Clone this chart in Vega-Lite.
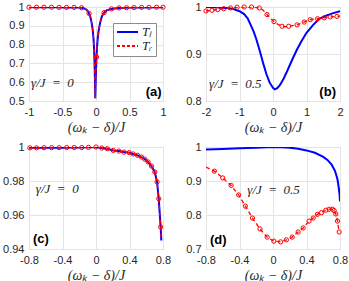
{
  "$schema": "https://vega.github.io/schema/vega-lite/v6.json",
  "background": "white",
  "padding": {"left": 2, "top": 0, "right": 0, "bottom": 0},
  "bounds": "flush",
  "align": "each",
  "columns": 2,
  "spacing": {"row": 46, "column": 43},
  "resolve": {"scale": {"color": "independent"}, "legend": {"color": "independent"}},
  "datasets": {
    "a": [
      {"x": -1, "y": 0.999}, {"x": -0.8, "y": 0.999}, {"x": -0.6, "y": 0.999}, {"x": -0.45, "y": 0.998},
      {"x": -0.33, "y": 0.998}, {"x": -0.25, "y": 0.997}, {"x": -0.2, "y": 0.995}, {"x": -0.16, "y": 0.99},
      {"x": -0.13, "y": 0.982}, {"x": -0.104, "y": 0.966}, {"x": -0.085, "y": 0.948}, {"x": -0.07, "y": 0.925},
      {"x": -0.058, "y": 0.9}, {"x": -0.047, "y": 0.87}, {"x": -0.037, "y": 0.83}, {"x": -0.029, "y": 0.78},
      {"x": -0.022, "y": 0.71}, {"x": -0.016, "y": 0.62}, {"x": -0.011, "y": 0.515}, {"x": -0.005, "y": 0.6},
      {"x": 0.0, "y": 0.66}, {"x": 0.008, "y": 0.734}, {"x": 0.016, "y": 0.79}, {"x": 0.026, "y": 0.835},
      {"x": 0.04, "y": 0.875}, {"x": 0.055, "y": 0.905}, {"x": 0.07, "y": 0.928}, {"x": 0.09, "y": 0.952},
      {"x": 0.12, "y": 0.97}, {"x": 0.16, "y": 0.982}, {"x": 0.2, "y": 0.987}, {"x": 0.25, "y": 0.991},
      {"x": 0.35, "y": 0.995}, {"x": 0.5, "y": 0.997}, {"x": 0.7, "y": 0.998}, {"x": 1, "y": 0.999}
    ],
    "am": [
      {"x": -1, "y": 0.999}, {"x": -0.888, "y": 0.999}, {"x": -0.776, "y": 0.999}, {"x": -0.664, "y": 0.999},
      {"x": -0.552, "y": 0.998}, {"x": -0.44, "y": 0.998}, {"x": -0.328, "y": 0.998}, {"x": -0.216, "y": 0.996},
      {"x": -0.104, "y": 0.966}, {"x": 0.008, "y": 0.734}, {"x": 0.12, "y": 0.97}, {"x": 0.232, "y": 0.99},
      {"x": 0.344, "y": 0.995}, {"x": 0.456, "y": 0.996}, {"x": 0.568, "y": 0.997}, {"x": 0.68, "y": 0.998},
      {"x": 0.792, "y": 0.998}, {"x": 0.904, "y": 0.999}, {"x": 1, "y": 0.999}
    ],
    "bb": [
      {"x": -2, "y": 1.0}, {"x": -1.7, "y": 0.9995}, {"x": -1.4, "y": 0.998}, {"x": -1.2, "y": 0.996},
      {"x": -1.0, "y": 0.991}, {"x": -0.86, "y": 0.985}, {"x": -0.75, "y": 0.975}, {"x": -0.66, "y": 0.961},
      {"x": -0.58, "y": 0.948}, {"x": -0.5, "y": 0.932}, {"x": -0.4, "y": 0.908}, {"x": -0.3, "y": 0.882},
      {"x": -0.2, "y": 0.858}, {"x": -0.1, "y": 0.839}, {"x": 0.0, "y": 0.828}, {"x": 0.05, "y": 0.825},
      {"x": 0.12, "y": 0.827}, {"x": 0.2, "y": 0.833}, {"x": 0.3, "y": 0.845}, {"x": 0.4, "y": 0.86},
      {"x": 0.5, "y": 0.876}, {"x": 0.6, "y": 0.892}, {"x": 0.72, "y": 0.91}, {"x": 0.84, "y": 0.926},
      {"x": 1.0, "y": 0.945}, {"x": 1.2, "y": 0.962}, {"x": 1.38, "y": 0.975}, {"x": 1.6, "y": 0.982},
      {"x": 1.8, "y": 0.987}, {"x": 2.0, "y": 0.991}
    ],
    "br": [
      {"x": -2, "y": 0.9915}, {"x": -1.82, "y": 0.993}, {"x": -1.65, "y": 0.9945}, {"x": -1.47, "y": 0.9965},
      {"x": -1.27, "y": 0.998}, {"x": -1.07, "y": 0.9995}, {"x": -0.86, "y": 1.0}, {"x": -0.64, "y": 1.0},
      {"x": -0.41, "y": 0.998}, {"x": -0.3, "y": 0.9935}, {"x": -0.18, "y": 0.984}, {"x": -0.08, "y": 0.976},
      {"x": 0.03, "y": 0.969}, {"x": 0.15, "y": 0.963}, {"x": 0.27, "y": 0.959}, {"x": 0.37, "y": 0.958},
      {"x": 0.47, "y": 0.959}, {"x": 0.72, "y": 0.962}, {"x": 0.93, "y": 0.968}, {"x": 1.11, "y": 0.973},
      {"x": 1.33, "y": 0.975}, {"x": 1.53, "y": 0.977}, {"x": 1.71, "y": 0.979}, {"x": 1.91, "y": 0.98},
      {"x": 2.0, "y": 0.9805}
    ],
    "bm": [
      {"x": -2, "y": 0.9915}, {"x": -1.82, "y": 0.993}, {"x": -1.65, "y": 0.9945}, {"x": -1.47, "y": 0.9965},
      {"x": -1.27, "y": 0.998}, {"x": -1.07, "y": 0.9995}, {"x": -0.86, "y": 1.0}, {"x": -0.64, "y": 1.0},
      {"x": -0.41, "y": 0.998}, {"x": -0.18, "y": 0.984}, {"x": 0.03, "y": 0.969}, {"x": 0.27, "y": 0.959},
      {"x": 0.47, "y": 0.959}, {"x": 0.72, "y": 0.962}, {"x": 0.93, "y": 0.968}, {"x": 1.11, "y": 0.973},
      {"x": 1.33, "y": 0.975}, {"x": 1.53, "y": 0.977}, {"x": 1.71, "y": 0.979}, {"x": 1.91, "y": 0.98}
    ],
    "c": [
      {"x": -0.8, "y": 0.9995}, {"x": -0.7, "y": 0.9995}, {"x": -0.6, "y": 0.9996}, {"x": -0.5, "y": 0.9996},
      {"x": -0.4, "y": 0.9996}, {"x": -0.3, "y": 0.9997}, {"x": -0.2, "y": 0.9997}, {"x": -0.1, "y": 0.9998},
      {"x": 0.0, "y": 1.0}, {"x": 0.068, "y": 0.9994}, {"x": 0.134, "y": 0.999}, {"x": 0.206, "y": 0.998},
      {"x": 0.273, "y": 0.9976}, {"x": 0.333, "y": 0.997}, {"x": 0.396, "y": 0.9967}, {"x": 0.444, "y": 0.9959},
      {"x": 0.496, "y": 0.9951}, {"x": 0.543, "y": 0.9941}, {"x": 0.583, "y": 0.9928}, {"x": 0.622, "y": 0.9912},
      {"x": 0.662, "y": 0.9888}, {"x": 0.702, "y": 0.9853}, {"x": 0.729, "y": 0.9795}, {"x": 0.749, "y": 0.9696},
      {"x": 0.772, "y": 0.953}, {"x": 0.78, "y": 0.945}
    ],
    "cm": [
      {"x": -0.79, "y": 0.9995}, {"x": -0.71, "y": 0.9995}, {"x": -0.62, "y": 0.9996}, {"x": -0.53, "y": 0.9996},
      {"x": -0.44, "y": 0.9996}, {"x": -0.35, "y": 0.9997}, {"x": -0.26, "y": 0.9997}, {"x": -0.17, "y": 0.9997},
      {"x": -0.09, "y": 0.9998}, {"x": 0.0, "y": 1.0}, {"x": 0.068, "y": 0.9994}, {"x": 0.134, "y": 0.999},
      {"x": 0.206, "y": 0.998}, {"x": 0.273, "y": 0.9976}, {"x": 0.333, "y": 0.997}, {"x": 0.396, "y": 0.9967},
      {"x": 0.444, "y": 0.9959}, {"x": 0.496, "y": 0.9951}, {"x": 0.543, "y": 0.9941}, {"x": 0.583, "y": 0.9928},
      {"x": 0.622, "y": 0.9912}, {"x": 0.662, "y": 0.9888}, {"x": 0.702, "y": 0.9853}, {"x": 0.729, "y": 0.9795},
      {"x": 0.749, "y": 0.9696}, {"x": 0.772, "y": 0.953}
    ],
    "db": [
      {"x": -0.8, "y": 0.993}, {"x": -0.6, "y": 0.994}, {"x": -0.4, "y": 0.996}, {"x": -0.2, "y": 0.998},
      {"x": 0.0, "y": 1.0}, {"x": 0.1, "y": 0.9995}, {"x": 0.2, "y": 0.998}, {"x": 0.3, "y": 0.995},
      {"x": 0.4, "y": 0.99}, {"x": 0.5, "y": 0.983}, {"x": 0.6, "y": 0.971}, {"x": 0.65, "y": 0.962},
      {"x": 0.7, "y": 0.948}, {"x": 0.74, "y": 0.93}, {"x": 0.77, "y": 0.905}, {"x": 0.785, "y": 0.88},
      {"x": 0.795, "y": 0.86}, {"x": 0.8, "y": 0.84}
    ],
    "dr": [
      {"x": -0.8, "y": 0.941}, {"x": -0.7, "y": 0.929}, {"x": -0.6, "y": 0.909}, {"x": -0.5, "y": 0.887},
      {"x": -0.41, "y": 0.859}, {"x": -0.33, "y": 0.826}, {"x": -0.245, "y": 0.791}, {"x": -0.155, "y": 0.759},
      {"x": -0.07, "y": 0.735}, {"x": 0.01, "y": 0.723}, {"x": 0.09, "y": 0.721}, {"x": 0.16, "y": 0.727},
      {"x": 0.23, "y": 0.735}, {"x": 0.3, "y": 0.75}, {"x": 0.36, "y": 0.762}, {"x": 0.43, "y": 0.782},
      {"x": 0.48, "y": 0.791}, {"x": 0.53, "y": 0.802}, {"x": 0.58, "y": 0.807}, {"x": 0.63, "y": 0.814},
      {"x": 0.67, "y": 0.817}, {"x": 0.71, "y": 0.817}, {"x": 0.73, "y": 0.813}, {"x": 0.75, "y": 0.803},
      {"x": 0.77, "y": 0.782}, {"x": 0.79, "y": 0.75}
    ],
    "dm": [
      {"x": -0.7, "y": 0.929}, {"x": -0.6, "y": 0.909}, {"x": -0.5, "y": 0.887},
      {"x": -0.41, "y": 0.859}, {"x": -0.33, "y": 0.826}, {"x": -0.245, "y": 0.791}, {"x": -0.155, "y": 0.759},
      {"x": -0.07, "y": 0.735}, {"x": 0.01, "y": 0.723}, {"x": 0.09, "y": 0.721}, {"x": 0.16, "y": 0.727},
      {"x": 0.23, "y": 0.735}, {"x": 0.3, "y": 0.75}, {"x": 0.36, "y": 0.762}, {"x": 0.43, "y": 0.782},
      {"x": 0.48, "y": 0.791}, {"x": 0.53, "y": 0.802}, {"x": 0.58, "y": 0.807}, {"x": 0.63, "y": 0.814},
      {"x": 0.67, "y": 0.817}, {"x": 0.71, "y": 0.817}, {"x": 0.73, "y": 0.813}, {"x": 0.75, "y": 0.803},
      {"x": 0.77, "y": 0.782}, {"x": 0.79, "y": 0.75}
    ],
    "ga": [{"x": -0.97, "y": 0.596, "t": "γ/J\u2002=\u20020"}],
    "pa": [{"x": 0.98, "y": 0.548, "t": "(a)"}],
    "gb": [{"x": -1.91, "y": 0.836, "t": "γ/J\u2002=\u20020.5"}],
    "pb": [{"x": 1.88, "y": 0.819, "t": "(b)"}],
    "gc": [{"x": -0.718, "y": 0.9753, "t": "γ/J\u2002=\u20020"}],
    "pc": [{"x": -0.753, "y": 0.9459, "t": "(c)"}],
    "gd": [{"x": -0.307, "y": 0.8735, "t": "γ/J\u2002=\u20020.5"}],
    "pd": [{"x": -0.752, "y": 0.7265, "t": "(d)"}]
  },
  "concat": [
    {
      "width": 134, "height": 94,
      "encoding": {
        "x": {"field": "x", "type": "quantitative", "scale": {"domain": [-1, 1], "nice": false, "zero": false}, "axis": {"values": [-1, -0.5, 0, 0.5, 1], "title": "(ωₖ − δ)/J"}},
        "y": {"field": "y", "type": "quantitative", "scale": {"domain": [0.5, 1], "nice": false, "zero": false}, "axis": {"values": [0.5, 0.6, 0.7, 0.8, 0.9, 1], "title": null}}
      },
      "layer": [
        {"data": {"name": "a"}, "mark": {"type": "line", "strokeWidth": 2, "clip": true},
         "encoding": {"color": {"datum": "Tₗ", "scale": {"domain": ["Tₗ", "Tᵣ"], "range": ["#0000ff", "#ff0000"]},
           "legend": {"title": null, "orient": "none", "legendX": 84, "legendY": 16, "symbolType": "stroke", "symbolSize": 441, "symbolStrokeWidth": 1.8, "clipHeight": 12, "labelFont": "Liberation Serif", "labelFontStyle": "italic", "labelFontSize": 13, "labelColor": "#262626", "padding": 3, "strokeColor": "#8c8c8c", "fillColor": "white", "rowPadding": 1, "labelOffset": 3,
             "encode": {"symbols": {"update": {"strokeDash": {"signal": "datum.value === 'Tᵣ' ? [3,2] : [1,0]"}}}}}}}},
        {"data": {"name": "a"}, "mark": {"type": "line", "strokeWidth": 1.3, "strokeDash": [4, 3], "clip": true},
         "encoding": {"color": {"datum": "Tᵣ"}}},
        {"data": {"name": "am"}, "mark": {"type": "point", "shape": "circle", "filled": false, "color": "#ff0000", "size": 18, "strokeWidth": 1, "opacity": 1}},
        {"data": {"name": "ga"}, "mark": {"type": "text", "align": "left", "baseline": "middle", "font": "Liberation Serif", "fontStyle": "italic", "fontSize": 13, "color": "#262626"},
         "encoding": {"text": {"field": "t"}}},
        {"data": {"name": "pa"}, "mark": {"type": "text", "align": "right", "baseline": "middle", "font": "Liberation Sans", "fontWeight": "bold", "fontSize": 13, "color": "#000000"},
         "encoding": {"text": {"field": "t"}}}
      ]
    },
    {
      "width": 134, "height": 94,
      "encoding": {
        "x": {"field": "x", "type": "quantitative", "scale": {"domain": [-2, 2], "nice": false, "zero": false}, "axis": {"values": [-2, -1, 0, 1, 2], "title": "(ωₖ − δ)/J"}},
        "y": {"field": "y", "type": "quantitative", "scale": {"domain": [0.8, 1], "nice": false, "zero": false}, "axis": {"values": [0.8, 0.9, 1], "title": null}}
      },
      "layer": [
        {"data": {"name": "bb"}, "mark": {"type": "line", "strokeWidth": 2, "color": "#0000ff", "clip": true}},
        {"data": {"name": "br"}, "mark": {"type": "line", "strokeWidth": 1.3, "strokeDash": [4, 3], "color": "#ff0000", "clip": true}},
        {"data": {"name": "bm"}, "mark": {"type": "point", "shape": "circle", "filled": false, "color": "#ff0000", "size": 18, "strokeWidth": 1, "opacity": 1}},
        {"data": {"name": "gb"}, "mark": {"type": "text", "align": "left", "baseline": "middle", "font": "Liberation Serif", "fontStyle": "italic", "fontSize": 13, "color": "#262626"},
         "encoding": {"text": {"field": "t"}}},
        {"data": {"name": "pb"}, "mark": {"type": "text", "align": "right", "baseline": "middle", "font": "Liberation Sans", "fontWeight": "bold", "fontSize": 13, "color": "#000000"},
         "encoding": {"text": {"field": "t"}}}
      ]
    },
    {
      "width": 134, "height": 102,
      "encoding": {
        "x": {"field": "x", "type": "quantitative", "scale": {"domain": [-0.8, 0.8], "nice": false, "zero": false}, "axis": {"values": [-0.8, -0.4, 0, 0.4, 0.8], "title": "(ωₖ − δ)/J"}},
        "y": {"field": "y", "type": "quantitative", "scale": {"domain": [0.94, 1], "nice": false, "zero": false}, "axis": {"values": [0.94, 0.96, 0.98, 1], "title": null}}
      },
      "layer": [
        {"data": {"name": "c"}, "mark": {"type": "line", "strokeWidth": 2, "color": "#0000ff", "clip": true}},
        {"data": {"name": "c"}, "mark": {"type": "line", "strokeWidth": 1.3, "strokeDash": [4, 3], "color": "#ff0000", "clip": true}},
        {"data": {"name": "cm"}, "mark": {"type": "point", "shape": "circle", "filled": false, "color": "#ff0000", "size": 18, "strokeWidth": 1, "opacity": 1}},
        {"data": {"name": "gc"}, "mark": {"type": "text", "align": "left", "baseline": "middle", "font": "Liberation Serif", "fontStyle": "italic", "fontSize": 13, "color": "#262626"},
         "encoding": {"text": {"field": "t"}}},
        {"data": {"name": "pc"}, "mark": {"type": "text", "align": "left", "baseline": "middle", "font": "Liberation Sans", "fontWeight": "bold", "fontSize": 13, "color": "#000000"},
         "encoding": {"text": {"field": "t"}}}
      ]
    },
    {
      "width": 134, "height": 102,
      "encoding": {
        "x": {"field": "x", "type": "quantitative", "scale": {"domain": [-0.8, 0.8], "nice": false, "zero": false}, "axis": {"values": [-0.8, -0.4, 0, 0.4, 0.8], "title": "(ωₖ − δ)/J"}},
        "y": {"field": "y", "type": "quantitative", "scale": {"domain": [0.7, 1], "nice": false, "zero": false}, "axis": {"values": [0.7, 0.8, 0.9, 1], "title": null}}
      },
      "layer": [
        {"data": {"name": "db"}, "mark": {"type": "line", "strokeWidth": 2, "color": "#0000ff", "clip": true}},
        {"data": {"name": "dr"}, "mark": {"type": "line", "strokeWidth": 1.3, "strokeDash": [4, 3], "color": "#ff0000", "clip": true}},
        {"data": {"name": "dm"}, "mark": {"type": "point", "shape": "circle", "filled": false, "color": "#ff0000", "size": 18, "strokeWidth": 1, "opacity": 1}},
        {"data": {"name": "gd"}, "mark": {"type": "text", "align": "left", "baseline": "middle", "font": "Liberation Serif", "fontStyle": "italic", "fontSize": 13, "color": "#262626"},
         "encoding": {"text": {"field": "t"}}},
        {"data": {"name": "pd"}, "mark": {"type": "text", "align": "left", "baseline": "middle", "font": "Liberation Sans", "fontWeight": "bold", "fontSize": 13, "color": "#000000"},
         "encoding": {"text": {"field": "t"}}}
      ]
    }
  ],
  "config": {
    "view": {"stroke": "#8c8c8c", "strokeWidth": 1},
    "axis": {
      "grid": true, "gridColor": "#e4e4e4", "gridWidth": 1, "domain": false, "ticks": false,
      "labelFont": "Liberation Sans", "labelFontSize": 11, "labelColor": "#262626", "labelPadding": 5,
      "labelFlush": false, "labelOverlap": false,
      "labelExpr": "replace(format(datum.value, '~g'), '−', '-')",
      "titleFont": "Liberation Serif", "titleFontStyle": "italic", "titleFontWeight": "normal", "titleFontSize": 14,
      "titleColor": "#262626", "titlePadding": 3
    }
  }
}
